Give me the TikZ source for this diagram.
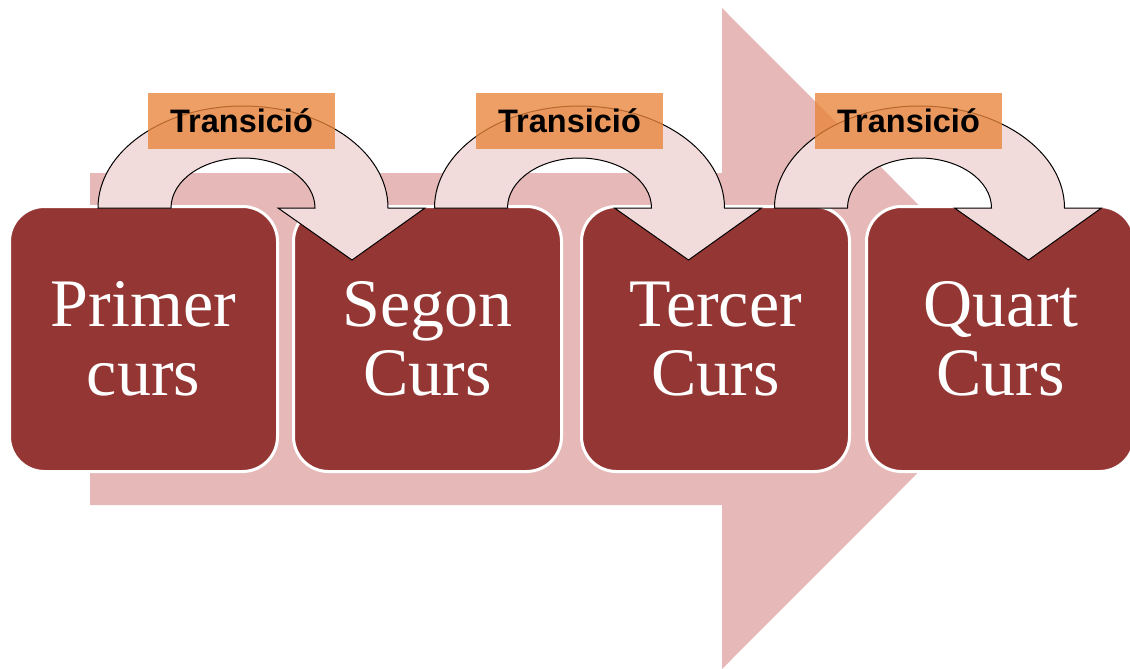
\documentclass[tikz,border=0pt]{standalone}
\usepackage{fontspec}
\usepackage{tikz}
\usetikzlibrary{positioning}
\newfontfamily\coursefont{Liberation Serif}
\newfontfamily\labelfont{Liberation Sans}
\definecolor{bgarrow}{HTML}{E6B9B8}
\definecolor{course}{HTML}{943634}
\definecolor{bend}{HTML}{F2DCDB}
\definecolor{tag}{HTML}{E8843A}

\begin{document}
\begin{tikzpicture}[
x=1pt, y=-1pt,
course/.style={
rectangle,
rounded corners=35pt,
draw=white,
line width=3pt,
fill=course,
text=white,
minimum width=268pt,
minimum height=265pt,
align=center,
font=\coursefont\fontsize{68}{69}\selectfont
},
bendarrow/.style={fill=bend, draw=black, line width=1pt, line join=miter},
tagbox/.style={
rectangle,
fill=tag,
fill opacity=0.78,
text opacity=1,
minimum width=187pt,
minimum height=56pt,
inner sep=0pt,
font=\labelfont\bfseries\fontsize{32.5}{32.5}\selectfont
}
]
\useasboundingbox (0,0) rectangle (1130,669);

% big background arrow
\fill[bgarrow] (90,173) -- (722,173) -- (722,8) -- (1052,338.5)
  -- (722,669) -- (722,505) -- (90,505) -- cycle;

% courses
\node[course] (box1) at (143.5,339) {Primer\\curs};
\node[course] (box2) at (427.5,339) {Segon\\Curs};
\node[course] (box3) at (715.5,339) {Tercer\\Curs};
\node[course] (box4) at (1000.5,339) {Quart\\Curs};

% transitions
\foreach \cx/\i in {243/1, 579.5/2, 919.5/3} {
  \coordinate (arc\i) at (\cx,208);
  \draw[bendarrow] ([xshift=-145pt]arc\i)
    arc[start angle=180, end angle=360, x radius=145, y radius=102]
    -- ([xshift=182pt]arc\i) -- ([xshift=109pt, yshift=-52pt]arc\i)
    -- ([xshift=35pt]arc\i) -- ([xshift=72pt]arc\i)
    arc[start angle=360, end angle=180, x radius=72, y radius=50]
    -- cycle;
}

\node[tagbox] (tag1) at (241.5,121) {Transició};
\node[tagbox] (tag2) at (569.5,121) {Transició};
\node[tagbox] (tag3) at (908.5,121) {Transició};

\end{tikzpicture}
\end{document}
